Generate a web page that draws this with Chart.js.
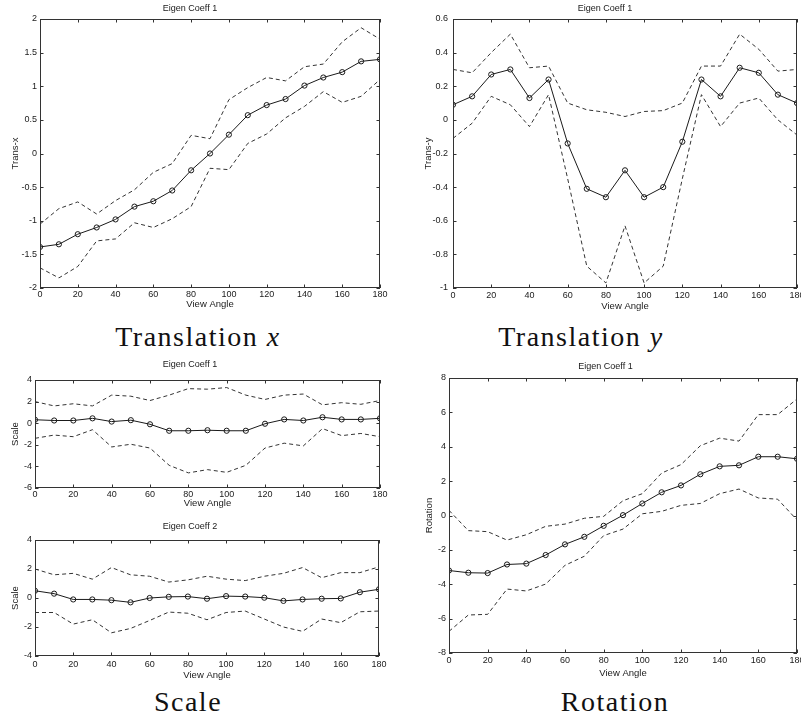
<!DOCTYPE html>
<html>
<head>
<meta charset="utf-8">
<script src="https://cdn.jsdelivr.net/npm/chart.js@4.4.1/dist/chart.umd.min.js"></script>
<style>
  html, body { margin: 0; padding: 0; background: #fff; width: 801px; height: 723px; overflow: hidden; position: relative; }
  canvas { position: absolute; }
  .cap { position: absolute; width: 300px; text-align: center; white-space: nowrap;
         font-family: "Liberation Serif", serif; font-size: 28px; line-height: 28px;
         letter-spacing: 1.5px; color: #111; }
</style>
</head>
<body>
<canvas id="c1" width="390" height="310" style="left:0;top:0"></canvas>
<canvas id="c2" width="397" height="312" style="left:413px;top:0"></canvas>
<canvas id="c3" width="390" height="153" style="left:0;top:356px"></canvas>
<canvas id="c4" width="390" height="163" style="left:0;top:518px"></canvas>
<canvas id="c5" width="396" height="321" style="left:414px;top:358px"></canvas>

<div class="cap" style="left:48px;top:323px">Translation <i>x</i></div>
<div class="cap" style="left:431px;top:323px">Translation <i>y</i></div>
<div class="cap" style="left:38px;top:688px">Scale</div>
<div class="cap" style="left:465px;top:688px">Rotation</div>

<script>
// view angles (degrees)
const angles = [0, 10, 20, 30, 40, 50, 60, 70, 80, 90, 100, 110, 120, 130, 140, 150, 160, 170, 180];

// translation x
const transXMean  = [-1.39, -1.35, -1.2, -1.1, -0.98, -0.79, -0.71, -0.55, -0.25, 0, 0.28, 0.57, 0.72, 0.81, 1.01, 1.13, 1.21, 1.37, 1.4];
const transXUpper = [-1.05, -0.82, -0.72, -0.9, -0.7, -0.54, -0.28, -0.15, 0.27, 0.22, 0.8, 0.98, 1.13, 1.08, 1.29, 1.33, 1.66, 1.87, 1.7];
const transXLower = [-1.7, -1.85, -1.68, -1.3, -1.27, -1.03, -1.1, -0.97, -0.79, -0.22, -0.24, 0.15, 0.29, 0.53, 0.7, 0.92, 0.76, 0.85, 1.1];

// translation y
const transYMean  = [0.09, 0.14, 0.27, 0.3, 0.13, 0.24, -0.14, -0.41, -0.46, -0.3, -0.46, -0.4, -0.13, 0.24, 0.14, 0.31, 0.28, 0.15, 0.1];
const transYUpper = [0.3, 0.28, 0.4, 0.51, 0.31, 0.32, 0.1, 0.06, 0.045, 0.02, 0.05, 0.055, 0.1, 0.32, 0.32, 0.51, 0.42, 0.29, 0.3];
const transYLower = [-0.11, -0.02, 0.14, 0.09, -0.04, 0.15, -0.35, -0.87, -0.97, -0.63, -0.97, -0.87, -0.35, 0.15, -0.04, 0.1, 0.13, 0, -0.09];

// scale, eigen coeff 1
const scale1Mean  = [0.32, 0.25, 0.25, 0.45, 0.15, 0.28, -0.1, -0.7, -0.7, -0.65, -0.7, -0.7, -0.05, 0.35, 0.25, 0.55, 0.35, 0.35, 0.45];
const scale1Upper = [2.0, 1.6, 1.8, 1.6, 2.6, 2.5, 2.1, 2.6, 3.2, 3.15, 3.3, 2.6, 2.2, 2.6, 2.7, 1.7, 1.9, 1.75, 2.1];
const scale1Lower = [-1.4, -1.1, -1.25, -0.6, -2.2, -1.95, -2.3, -3.9, -4.6, -4.3, -4.55, -3.9, -2.3, -1.85, -2.1, -0.5, -1.15, -0.95, -1.25];

// scale, eigen coeff 2
const scale2Mean  = [0.5, 0.3, -0.1, -0.1, -0.15, -0.3, 0, 0.08, 0.1, -0.05, 0.13, 0.1, 0.02, -0.2, -0.1, -0.05, -0.03, 0.4, 0.6];
const scale2Upper = [2.0, 1.6, 1.7, 1.3, 2.1, 1.6, 1.5, 1.1, 1.25, 1.5, 1.3, 1.2, 1.5, 1.7, 2.1, 1.4, 1.75, 1.75, 2.15];
const scale2Lower = [-1.0, -1.0, -1.8, -1.5, -2.4, -2.1, -1.55, -0.97, -1.05, -1.5, -1.0, -0.9, -1.45, -2.0, -2.3, -1.45, -1.7, -0.95, -0.9];

// rotation
const rotMean  = [-3.2, -3.33, -3.35, -2.85, -2.8, -2.3, -1.68, -1.24, -0.6, 0.02, 0.7, 1.35, 1.75, 2.4, 2.86, 2.92, 3.42, 3.42, 3.3];
const rotUpper = [0.3, -0.88, -0.94, -1.43, -1.12, -0.63, -0.5, -0.16, -0.05, 0.86, 1.27, 2.47, 2.96, 4.06, 4.5, 4.33, 5.87, 5.87, 6.78];
const rotLower = [-6.74, -5.79, -5.75, -4.28, -4.39, -3.99, -2.9, -2.37, -1.17, -0.79, 0.1, 0.24, 0.59, 0.7, 1.27, 1.54, 1.02, 0.95, -0.26];

const FONT = '"Liberation Sans", Arial, sans-serif';
const INK = '#1a1a1a';

// matlab style box with inward ticks on all four sides
const matlabBox = {
  id: 'matlabBox',
  afterDatasetsDraw(chart) {
    const { ctx, chartArea: a, scales: { x, y } } = chart;
    ctx.save();
    ctx.strokeStyle = '#333';
    ctx.lineWidth = 1;
    ctx.strokeRect(a.left + 0.5, a.top + 0.5, a.width - 1, a.height - 1);
    ctx.beginPath();
    x.ticks.forEach(t => {
      const px = Math.round(x.getPixelForValue(t.value)) + 0.5;
      ctx.moveTo(px, a.bottom); ctx.lineTo(px, a.bottom - 3.5);
      ctx.moveTo(px, a.top); ctx.lineTo(px, a.top + 3.5);
    });
    y.ticks.forEach(t => {
      const py = Math.round(y.getPixelForValue(t.value)) + 0.5;
      ctx.moveTo(a.left, py); ctx.lineTo(a.left + 3.5, py);
      ctx.moveTo(a.right, py); ctx.lineTo(a.right - 3.5, py);
    });
    ctx.stroke();
    ctx.restore();
  }
};

const pts = arr => arr.map((v, i) => ({ x: angles[i], y: v }));
const plain = v => String(+v.toFixed(2));

function makePanel(id, p) {
  const dashed = arr => ({
    data: pts(arr), borderColor: '#333', borderWidth: 1, borderDash: [4, 3],
    pointRadius: 0, fill: false, tension: 0
  });
  new Chart(document.getElementById(id), {
    type: 'line',
    data: {
      datasets: [
        { data: pts(p.mean), borderColor: INK, borderWidth: 1, pointRadius: 2.6,
          pointBorderWidth: 1, pointBorderColor: INK, pointBackgroundColor: 'rgba(0,0,0,0)',
          fill: false, tension: 0 },
        dashed(p.upper),
        dashed(p.lower)
      ]
    },
    options: {
      responsive: false,
      animation: false,
      layout: { padding: { left: 0, right: p.padRight, top: 0, bottom: 0 } },
      plugins: {
        legend: { display: false },
        tooltip: { enabled: false },
        title: {
          display: true, text: p.title, color: INK,
          font: { family: FONT, size: 9, weight: 'normal', lineHeight: 1.2 },
          padding: { top: 3.6, bottom: p.titleGap }
        }
      },
      scales: {
        x: {
          type: 'linear', min: 0, max: 180,
          ticks: { stepSize: 20, color: INK, padding: p.xTickPad, font: { family: FONT, size: 9 }, maxRotation: 0, callback: plain },
          grid: { display: false, drawTicks: false },
          border: { display: false },
          title: { display: true, text: 'View Angle', color: INK, padding: 0, font: { family: FONT, size: 9.5 } },
          afterFit: s => { s.height = p.xHeight; }
        },
        y: {
          min: p.min, max: p.max,
          ticks: { stepSize: p.step, color: INK, padding: p.yTickPad, font: { family: FONT, size: 9 }, callback: plain },
          grid: { display: false, drawTicks: false },
          border: { display: false },
          title: { display: true, text: p.yLabel, color: INK, padding: { top: 10, bottom: 0 }, font: { family: FONT, size: 9.5 } },
          afterFit: s => { s.width = p.yWidth; }
        }
      }
    },
    plugins: [matlabBox]
  });
}

makePanel('c1', { title: 'Eigen Coeff 1', yLabel: 'Trans-x', mean: transXMean, upper: transXUpper, lower: transXLower,
  min: -2, max: 2, step: 0.5, padRight: 10, titleGap: 4.6, xHeight: 22, xTickPad: 1.5, yWidth: 40, yTickPad: 3 });
makePanel('c2', { title: 'Eigen Coeff 1', yLabel: 'Trans-y', mean: transYMean, upper: transYUpper, lower: transYLower,
  min: -1, max: 0.6, step: 0.2, padRight: 13, titleGap: 4.6, xHeight: 24, xTickPad: 2.5, yWidth: 40, yTickPad: 5 });
makePanel('c3', { title: 'Eigen Coeff 1', yLabel: 'Scale', mean: scale1Mean, upper: scale1Upper, lower: scale1Lower,
  min: -6, max: 4, step: 2, padRight: 10, titleGap: 9.6, xHeight: 21, xTickPad: 1.5, yWidth: 35, yTickPad: 3 });
makePanel('c4', { title: 'Eigen Coeff 2', yLabel: 'Scale', mean: scale2Mean, upper: scale2Upper, lower: scale2Lower,
  min: -4, max: 4, step: 2, padRight: 10, titleGap: 7.6, xHeight: 25, xTickPad: 3.5, yWidth: 35, yTickPad: 3 });
makePanel('c5', { title: 'Eigen Coeff 1', yLabel: 'Rotation', mean: rotMean, upper: rotUpper, lower: rotLower,
  min: -8, max: 8, step: 2, padRight: 13, titleGap: 5.6, xHeight: 26, xTickPad: 2.5, yWidth: 35, yTickPad: 3 });
</script>
</body>
</html>
